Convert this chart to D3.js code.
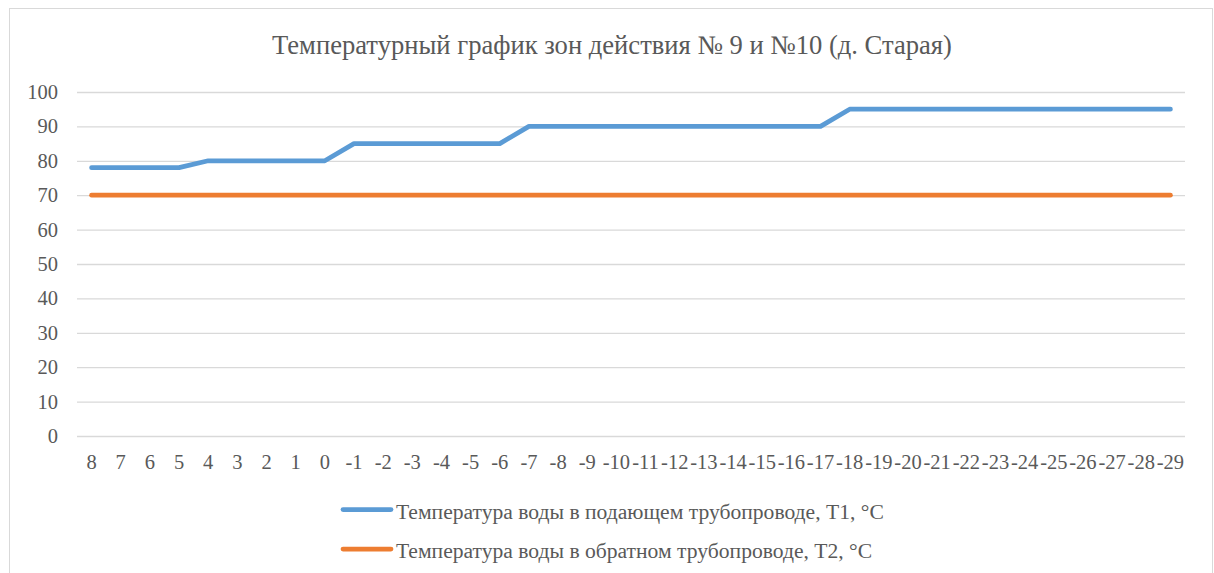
<!DOCTYPE html>
<html>
<head>
<meta charset="utf-8">
<script src="https://d3js.org/d3.v7.min.js"></script>
<style>
  html, body { margin: 0; padding: 0; background: #fff; }
  svg { display: block; }
  svg text { font-family: 'Liberation Serif', 'Times New Roman', serif; }
</style>
</head>
<body>
<svg id="chart" width="1214" height="573"></svg>
<script>
// ── Daten ─────────────────────────────────────────────
const categories = ['8','7','6','5','4','3','2','1','0','-1','-2','-3','-4','-5','-6','-7','-8','-9',
  '-10','-11','-12','-13','-14','-15','-16','-17','-18','-19','-20','-21','-22','-23','-24','-25','-26','-27','-28','-29'];

const t1 = [78,78,78,78,80,80,80,80,80,85,85,85,85,85,85,90,90,90,
  90,90,90,90,90,90,90,90,95,95,95,95,95,95,95,95,95,95,95,95];

const t2 = [70,70,70,70,70,70,70,70,70,70,70,70,70,70,70,70,70,70,
  70,70,70,70,70,70,70,70,70,70,70,70,70,70,70,70,70,70,70,70];

const yTicks = [0,10,20,30,40,50,60,70,80,90,100];

const seriesNames = [
  'Температура воды в подающем трубопроводе, Т1, °С',
  'Температура воды в обратном трубопроводе, Т2, °С'
];

const TITLE = 'Температурный график зон действия № 9 и №10 (д. Старая)';

// ── Layout ────────────────────────────────────────────
const TEXT = '#595959';
const COLORS = ['#5B9BD5', '#ED7D31'];

const svg = d3.select('#chart');

// Rahmen
svg.append('rect')
  .attr('x', 9.5).attr('y', 8.5)
  .attr('width', 1203).attr('height', 580)
  .attr('fill', '#fff')
  .attr('stroke', '#D9D9D9').attr('stroke-width', 1);

const plot = { left: 77, right: 1185, top: 92, bottom: 436 };

const x = d3.scaleBand()
  .domain(categories)
  .range([plot.left, plot.right]);

const y = d3.scaleLinear()
  .domain([0, 100])
  .range([plot.bottom, plot.top]);

// Titel
svg.append('text')
  .attr('x', 612).attr('y', 54)
  .attr('text-anchor', 'middle')
  .style('font-size', '26.6px')
  .attr('fill', TEXT)
  .text(TITLE);

// Gitter + Y-Achse
const yAxis = svg.append('g')
  .attr('transform', `translate(${plot.left},0)`)
  .call(d3.axisLeft(y).tickValues(yTicks).tickSize(-(plot.right - plot.left)).tickPadding(19));
yAxis.select('.domain').remove();
yAxis.selectAll('.tick line').attr('stroke', '#D9D9D9').attr('stroke-width', 1.3);
yAxis.selectAll('.tick text')
  .style('font-size', '20.5px')
  .attr('fill', TEXT);

// X-Achse
const xAxis = svg.append('g')
  .attr('transform', `translate(0,${plot.bottom})`)
  .call(d3.axisBottom(x).tickSize(0).tickPadding(18));
xAxis.select('.domain').remove();
xAxis.selectAll('.tick text')
  .style('font-size', '20.5px')
  .attr('fill', TEXT);

// Linien
const line = d3.line()
  .x((d, i) => x(categories[i]) + x.bandwidth() / 2)
  .y(d => y(d));

[t1, t2].forEach((s, i) => {
  svg.append('path')
    .datum(s)
    .attr('d', line)
    .attr('fill', 'none')
    .attr('stroke', COLORS[i])
    .attr('stroke-width', 4.75)
    .attr('stroke-linejoin', 'round')
    .attr('stroke-linecap', 'round');
});

// Legende
const legend = svg.append('g');
seriesNames.forEach((name, i) => {
  const ly = 509.5 + i * 39.5;
  legend.append('line')
    .attr('x1', 343).attr('x2', 391)
    .attr('y1', ly).attr('y2', ly)
    .attr('stroke', COLORS[i]).attr('stroke-width', 4.75)
    .attr('stroke-linecap', 'round');
  legend.append('text')
    .attr('x', 396).attr('y', ly + 9)
    .style('font-size', '21.6px')
    .attr('fill', TEXT)
    .text(name);
});
</script>
</body>
</html>
